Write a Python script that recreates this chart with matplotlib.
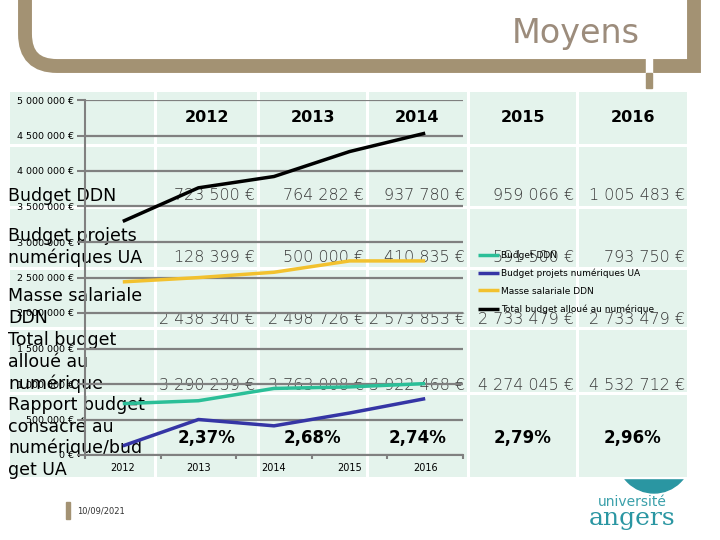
import matplotlib
matplotlib.use("Agg")
import matplotlib.pyplot as plt
import matplotlib.patches as mpatches
from matplotlib.path import Path
from matplotlib.ticker import FuncFormatter, MultipleLocator

# data
years = ['2012', '2013', '2014', '2015', '2016']
budget_ddn = [723500, 764282, 937780, 959066, 1005483]
budget_projets = [128399, 500000, 410835, 591500, 793750]
masse_salariale = [2438340, 2498726, 2573853, 2733479, 2733479]
total_budget = [3290239, 3763008, 3922468, 4274045, 4532712]
rapport = ['2,37%', '2,68%', '2,74%', '2,79%', '2,96%']
series_names = ['Budget DDN', 'Budget projets numériques UA',
                'Masse salariale DDN', 'Total budget alloué au numérique']
series_colors = ['#2bbf98', '#3535a5', '#f2c12e', '#000000']
row_labels = [['Budget DDN'],
              ['Budget projets', 'numériques UA'],
              ['Masse salariale', 'DDN'],
              ['Total budget', 'alloué au', 'numérique'],
              ['Rapport budget', 'consacré au', 'numérique/bud', 'get UA']]

tan = '#a39273'
mint = '#e4f3ec'


def euro(v):
    return f"{v:,.0f} €".replace(',', ' ')


fig = plt.figure(figsize=(7.2, 5.4), dpi=100)
fig.patch.set_facecolor('white')

# background layer in pixel coordinates
bg = fig.add_axes([0, 0, 1, 1])
bg.set_xlim(0, 720)
bg.set_ylim(540, 0)
bg.axis('off')

# slide frame
r = 32
verts = [(25, -20), (25, 66 - r), (25, 66), (25 + r, 66), (694, 66), (694, -20)]
codes = [Path.MOVETO, Path.LINETO, Path.CURVE3, Path.CURVE3, Path.LINETO, Path.LINETO]
bg.add_patch(mpatches.PathPatch(Path(verts, codes), fill=False, edgecolor=tan,
                                lw=10, capstyle='butt', joinstyle='miter'))
bg.add_patch(mpatches.Rectangle((646, 58), 6, 15, color='white'))
bg.add_patch(mpatches.Rectangle((646, 73), 6, 15, color=tan))
bg.text(640, 33, 'Moyens', ha='right', va='center', fontsize=24, color='#9c8c7c')

# logo
bg.add_patch(mpatches.Circle((654, 456), 37, color='#2a96a2'))
bg.add_patch(mpatches.Rectangle((560, 400), 140, 78, color='white'))
bg.text(632, 502, 'université', ha='center', va='center', fontsize=10, color='#3aa0aa')
bg.text(632, 518, 'angers', ha='center', va='center', fontsize=18,
        family='DejaVu Serif', color='#2a96a2')

# date
bg.add_patch(mpatches.Rectangle((66, 502), 4, 17, color=tan))
bg.text(77, 511, '10/09/2021', ha='left', va='center', fontsize=6, color='#333333')

# table cells
col_edges = [8, 155, 258, 367, 468, 577, 688]
row_edges = [90, 145, 207, 268, 328, 393, 478]
for i in range(len(col_edges) - 1):
    for j in range(len(row_edges) - 1):
        x0, x1 = col_edges[i] + 1.5, col_edges[i + 1] - 1.5
        y0, y1 = row_edges[j] + 1.5, row_edges[j + 1] - 1.5
        bg.add_patch(mpatches.Rectangle((x0, y0), x1 - x0, y1 - y0, color=mint, lw=0))

centers = [(col_edges[i] + col_edges[i + 1]) / 2 for i in range(1, 6)]
rights = [col_edges[i + 1] - 3 for i in range(1, 6)]

for cx, yr in zip(centers, years):
    bg.text(cx, 117, yr, ha='center', va='center', fontsize=11.5, fontweight='bold')

value_rows = [budget_ddn, budget_projets, masse_salariale, total_budget]
value_y = [196, 258, 319, 385]
for vals, vy in zip(value_rows, value_y):
    for rx, v in zip(rights, vals):
        bg.text(rx, vy, euro(v), ha='right', va='center', fontsize=11.5,
                fontweight='light', color='#3a3a3a')

for cx, p in zip(centers, rapport):
    bg.text(cx, 438, p, ha='center', va='center', fontsize=12, fontweight='bold')

label_y = [[196], [236, 258], [296, 318], [340, 362, 384], [405, 427, 448, 470]]
for lines, ys in zip(row_labels, label_y):
    for t, ly in zip(lines, ys):
        bg.text(8, ly, t, ha='left', va='center', fontsize=12.5, color='black')

# chart on top of the table
ax = fig.add_axes([85 / 720, 85 / 540, 378 / 720, 355 / 540])
ax.patch.set_alpha(0)
x = range(len(years))
for vals, name, c in zip([budget_ddn, budget_projets, masse_salariale, total_budget],
                         series_names, series_colors):
    ax.plot(x, vals, color=c, lw=2.5, label=name, solid_capstyle='butt')

ax.set_xlim(-0.5, 4.5)
ax.set_ylim(0, 5000000)
ax.yaxis.set_major_locator(MultipleLocator(500000))
ax.yaxis.set_major_formatter(FuncFormatter(lambda v, p: euro(v)))
ax.yaxis.grid(True, color='#808080', lw=1.6)
ax.set_axisbelow(True)
ax.set_xticks(list(x))
ax.set_xticklabels(years)
ax.set_xticks([i - 0.5 for i in range(6)], minor=True)
ax.tick_params(axis='x', which='major', length=0, pad=6, labelsize=7)
ax.tick_params(axis='x', which='minor', length=3, width=1.5, color='#808080')
ax.tick_params(axis='y', length=6, width=1.5, color='#808080', pad=2, labelsize=6.8)
for s in ['top', 'right']:
    ax.spines[s].set_visible(False)
for s in ['left', 'bottom']:
    ax.spines[s].set_color('#808080')
    ax.spines[s].set_linewidth(1.5)

ax.legend(loc='upper left', bbox_to_anchor=(478 / 720, 1 - 251 / 540),
          bbox_transform=fig.transFigure, frameon=False, fontsize=6.5,
          handlelength=2.3, handletextpad=0.25, labelspacing=0.95,
          borderpad=0, borderaxespad=0)

fig.savefig('out.png', dpi=100)
